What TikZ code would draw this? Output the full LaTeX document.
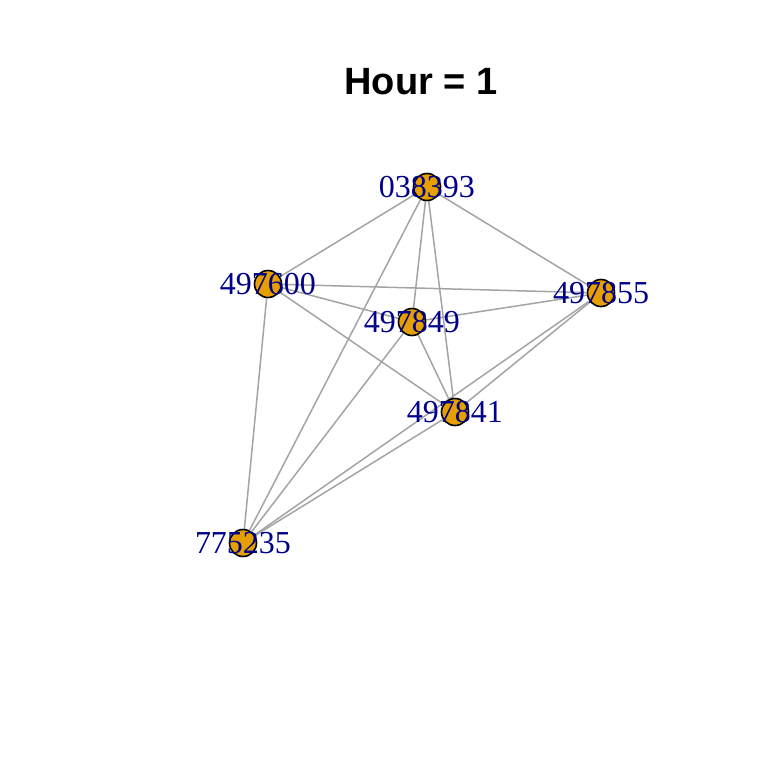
\documentclass[tikz,border=0pt]{standalone}
\usepackage{fontspec}
\setmainfont{Liberation Serif}
\newfontfamily\titlefont{Liberation Sans}
\usetikzlibrary{backgrounds}
\definecolor{vfill}{HTML}{E69F00}
\definecolor{vtext}{HTML}{00008B}
\definecolor{edgegray}{HTML}{A4A4A4}
\tikzset{
    vertex/.style = {draw=black, circle, fill=vfill, line width=0.8pt,
        minimum size=13.5pt, inner sep=0pt},
    vlabel/.style = {text=vtext, font=\fontsize{16}{16}\selectfont, inner sep=0pt},
    link/.style = {draw=edgegray, line width=0.75pt}
}

\begin{document}
\begin{tikzpicture}[x=0.5pt, y=-0.5pt]
        \useasboundingbox (0,0) rectangle (768,768);
        \node [anchor=base, font=\titlefont\bfseries\fontsize{19}{19}\selectfont] (title) at (421,94) {Hour = 1};
        % vertices with their ids
        \foreach \id/\x/\y in {038393/427/187, 497600/268/284, 497855/601/293,
                               497849/412/322, 497841/455/412, 775235/243/543}{
            \node [vertex] (v\id) at (\x,\y) {};
            \node [vlabel] (l\id) at (v\id) {\id};
        }
        % every pair is linked
        \begin{scope}[on background layer]
            \foreach \a/\b in {038393/497600, 038393/497855, 038393/497849, 038393/497841, 038393/775235,
                               497600/497855, 497600/497849, 497600/497841, 497600/775235,
                               497849/497855, 497849/497841, 497849/775235,
                               497855/497841, 497855/775235, 497841/775235}{
                \draw [link] (v\a) -- (v\b);
            }
        \end{scope}
\end{tikzpicture}
\end{document}
